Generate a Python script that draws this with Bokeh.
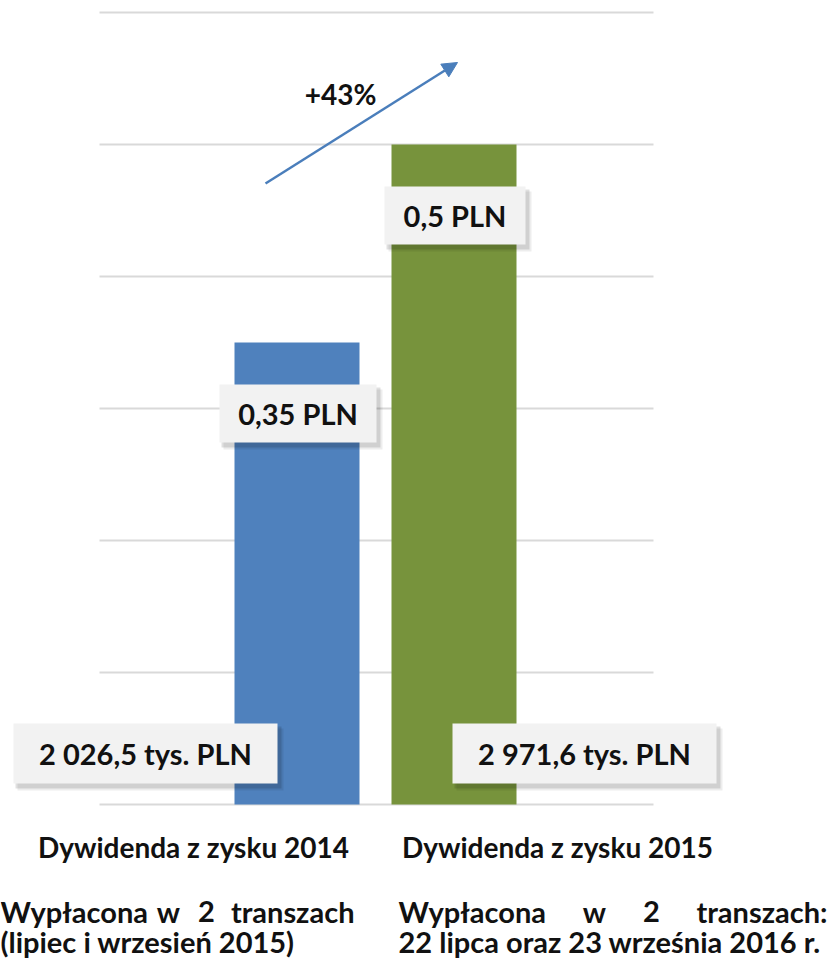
from bokeh.plotting import figure
from bokeh.models import Range1d, Arrow, NormalHead
from bokeh.core.properties import value
from bokeh.embed import file_html
from bokeh.resources import INLINE

# ---------------- data ----------------
categories = ["Dywidenda z zysku 2014", "Dywidenda z zysku 2015"]
dps = [0.35, 0.5]                       # dividend per share, PLN
dps_labels = ["0,35 PLN", "0,5 PLN"]
totals = [2026.5, 2971.6]               # total dividend, thousand PLN
total_labels = ["2 026,5 tys. PLN", "2 971,6 tys. PLN"]
y_ticks = [0.0, 0.1, 0.2, 0.3, 0.4, 0.5, 0.6]
note_left_line1 = ["Wypłacona", "w", "2", "transzach"]
note_left_line2 = "(lipiec i wrzesień 2015)"
note_right_line1 = ["Wypłacona", "w", "2", "transzach:"]
note_right_line2 = "22 lipca oraz 23 września 2016 r."
growth_label = "+%d%%" % round((dps[1] / dps[0] - 1) * 100)

# ---------------- layout ----------------
W, H = 830, 962
XS = 157.0      # px per category step
X0 = 296.5      # px of first category centre
YS = 1320.0     # px per PLN
Y0 = 804.0      # px of value 0 (from top)

def X(rx):  # pixel -> data x
    return (rx - X0) / XS

def Y(ry):  # pixel -> data y
    return (Y0 - ry) / YS

FONT = value("Lato")
TXT = "#111111"
bar_colors = ["#4f81bd", "#77933c"]
idx = list(range(len(categories)))

p = figure(width=W, height=H, output_backend="svg", toolbar_location=None,
           x_range=Range1d(-X0 / XS, (W - X0) / XS),
           y_range=Range1d(-(H - Y0) / YS, Y0 / YS),
           min_border=0)
p.axis.visible = False
p.grid.visible = False
p.outline_line_color = None
p.background_fill_color = "white"
p.border_fill_color = "white"

# grid lines
p.segment(x0=X(99), x1=X(653), y0=y_ticks, y1=y_ticks, line_color="#d9d9d9", line_width=2)

# bars
p.vbar(x=idx, top=dps, bottom=0, width=125 / XS, fill_color=bar_colors, line_color=None)

def label_boxes(xs, ys, widths, height, texts, size):
    for off, a in [((5, 6), 0.07), ((3, 4), 0.12)]:
        p.rect(x=[x + off[0] / XS for x in xs], y=[y - off[1] / YS for y in ys],
               width=[w + 2 for w in widths], height=height + 2,
               width_units="screen", height_units="screen",
               fill_color="black", fill_alpha=a, line_color=None)
    p.rect(x=xs, y=ys, width=widths, height=height, width_units="screen",
           height_units="screen", fill_color="#f2f2f2", line_color=None)
    p.text(x=xs, y=ys, text=texts, text_font=FONT, text_font_style="bold",
           text_font_size=size, text_align="center", text_baseline="middle",
           text_color=TXT)

# per-share labels
label_boxes([i + 1 / XS for i in idx], [v - 71 / YS for v in dps], [157, 141], 58,
            dps_labels, "29px")
# total labels
label_boxes([0 - 151.5 / XS, 1 + 130.5 / XS], [Y(753)] * 2, [264, 264], 60,
            total_labels, "29px")

# arrow & growth
p.add_layout(Arrow(x_start=X(265), y_start=Y(183), x_end=X(457), y_end=Y(62),
                   line_color="#4a7ebb", line_width=2.5,
                   end=NormalHead(size=15, fill_color="#4a7ebb", line_color="#4a7ebb")))
p.text(x=[X(340)], y=[Y(93)], text=[growth_label], text_font=FONT, text_font_style="bold",
       text_font_size="28px", text_align="center", text_baseline="middle", text_color=TXT)

# category labels
p.text(x=[0 - 103.5 / XS, 1 + 103.5 / XS], y=[Y(846)] * 2, text=categories,
       text_font=FONT, text_font_style="bold", text_font_size="28px",
       text_align="center", text_baseline="middle", text_color=TXT)

# justified notes, line 1
def note_line(words, left, c2, c3, right, ry):
    aligns = ["left", "center", "center", "right"]
    xs = [X(left), X(c2), X(c3), X(right)]
    for w, x, a in zip(words, xs, aligns):
        p.text(x=[x], y=[Y(ry)], text=[w], text_font=FONT, text_font_style="bold",
               text_font_size="29px", text_align=a, text_baseline="middle",
               text_color=TXT)

note_line(note_left_line1, 0, 168, 206, 354, 911)
note_line(note_right_line1, 398, 594, 651, 827, 911)
p.text(x=[X(0), X(398)], y=[Y(941)] * 2, text=[note_left_line2, note_right_line2],
       text_font=FONT, text_font_style="bold", text_font_size="29px",
       text_align="left", text_baseline="middle", text_color=TXT)

open("out.html", "w").write(file_html(p, INLINE))
